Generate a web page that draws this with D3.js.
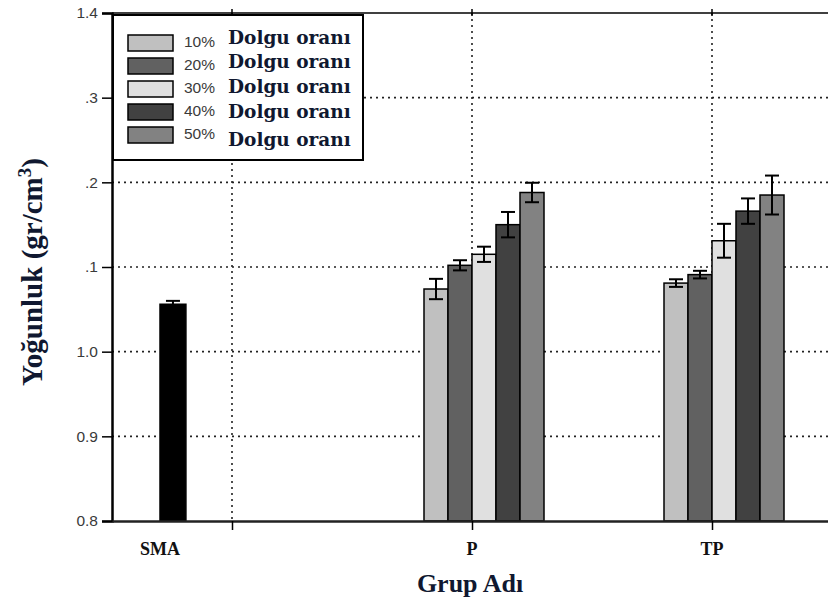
<!DOCTYPE html>
<html>
<head>
<meta charset="utf-8">
<script src="https://cdn.jsdelivr.net/npm/d3@7"></script>
<style>
  html, body { margin: 0; padding: 0; background: #fff; }
  svg { display: block; }
</style>
</head>
<body>
<svg id="chart" width="828" height="612"></svg>
<script>
// ---------- data ----------
const categories = ["SMA", "P", "TP"];
const categoryTickPos = [1, 2, 3];          // grid / tick positions (x units)
const categoryLabelPos = [0.7, 2, 3];       // label positions (x units)
const groupStart = [0.7, 1.8, 2.8];         // left edge of each group (x units)
const seriesNames = ["10%", "20%", "30%", "40%", "50%"];
const seriesColors = ["#c0c0c0", "#616161", "#e0e0e0", "#414141", "#828282"];
const smaValues = [1.056];
const smaErrors = [0.004];
const pValues = [1.074, 1.102, 1.115, 1.150, 1.188];
const pErrors = [0.012, 0.006, 0.009, 0.015, 0.0115];
const tpValues = [1.081, 1.091, 1.131, 1.166, 1.185];
const tpErrors = [0.0045, 0.0045, 0.020, 0.015, 0.023];
const yTicks = [0.8, 0.9, 1.0, 1.1, 1.2, 1.3, 1.4];
const yTickLabels = ["0.8", "0.9", "1.0", ".1", ".2", ".3", "1.4"];
const legendSuffix = "Dolgu oranı";

// ---------- scales ----------
const svg = d3.select("#chart");
const x = d3.scaleLinear().domain([0.5, 3.5]).range([112, 832]);
const y = d3.scaleLinear().domain([0.8, 1.4]).range([521, 13]);
const barW = 0.1;

// bars table
const bars = [];
smaValues.forEach((v, i) => bars.push({ x0: groupStart[0], w: 0.108, v, e: smaErrors[i], color: "#000" }));
pValues.forEach((v, i) => bars.push({ x0: groupStart[1] + i * barW, w: barW, v, e: pErrors[i], color: seriesColors[i] }));
tpValues.forEach((v, i) => bars.push({ x0: groupStart[2] + i * barW, w: barW, v, e: tpErrors[i], color: seriesColors[i] }));

// ---------- grid ----------
const grid = svg.append("g");
grid.selectAll("line.h").data(yTicks.slice(1, -1)).join("line")
  .attr("x1", x(0.5)).attr("x2", 828)
  .attr("y1", d => y(d)).attr("y2", d => y(d))
  .attr("stroke", "#222").attr("stroke-width", 1.6).attr("stroke-dasharray", "2,4");
grid.selectAll("line.v").data(categoryTickPos).join("line")
  .attr("x1", d => x(d)).attr("x2", d => x(d))
  .attr("y1", y(1.4)).attr("y2", y(0.8))
  .attr("stroke", "#222").attr("stroke-width", 1.6).attr("stroke-dasharray", "2,4");

// ---------- bars ----------
svg.append("g").selectAll("rect").data(bars).join("rect")
  .attr("x", d => x(d.x0)).attr("width", d => x(d.x0 + d.w) - x(d.x0))
  .attr("y", d => y(d.v)).attr("height", d => y(0.8) - y(d.v))
  .attr("fill", d => d.color).attr("stroke", "#000").attr("stroke-width", 1.5);

// error bars
const eb = svg.append("g").attr("stroke", "#000").attr("stroke-width", 2);
bars.forEach(d => {
  const cx = x(d.x0 + d.w / 2);
  eb.append("line").attr("x1", cx).attr("x2", cx).attr("y1", y(d.v + d.e)).attr("y2", y(d.v - d.e));
  eb.append("line").attr("x1", cx - 7).attr("x2", cx + 7).attr("y1", y(d.v + d.e)).attr("y2", y(d.v + d.e));
  eb.append("line").attr("x1", cx - 7).attr("x2", cx + 7).attr("y1", y(d.v - d.e)).attr("y2", y(d.v - d.e));
});

// ---------- axes ----------
const yAxis = d3.axisLeft(y).tickValues(yTicks)
  .tickFormat((d, i) => yTickLabels[i]).tickSize(10).tickPadding(4);
const gy = svg.append("g").attr("transform", `translate(${x(0.5)},0)`).call(yAxis);
gy.select(".domain").attr("stroke", "#000").attr("stroke-width", 2.5);
gy.selectAll(".tick line").attr("stroke", "#000").attr("stroke-width", 1.5);
gy.selectAll("text").attr("font-family", "Liberation Sans, Arial, sans-serif")
  .attr("font-size", 15.5).attr("fill", "#3a3a3a");

const xAxis = d3.axisBottom(x).tickValues(categoryTickPos).tickFormat("").tickSize(9).tickSizeOuter(0);
const gx = svg.append("g").attr("transform", `translate(0,${y(0.8)})`).call(xAxis);
gx.select(".domain").attr("stroke", "#222").attr("stroke-width", 2.5);
gx.selectAll(".tick line").attr("stroke", "#000").attr("stroke-width", 1.5);

// top frame
svg.append("line").attr("x1", x(0.5)).attr("x2", 828).attr("y1", y(1.4)).attr("y2", y(1.4))
  .attr("stroke", "#000").attr("stroke-width", 1.5);
svg.append("g").selectAll("line").data(categoryTickPos).join("line")
  .attr("x1", d => x(d)).attr("x2", d => x(d)).attr("y1", y(1.4) - 4).attr("y2", y(1.4) + 3)
  .attr("stroke", "#000").attr("stroke-width", 1.5);

// category labels
svg.append("g").selectAll("text").data(categories).join("text")
  .attr("x", (d, i) => x(categoryLabelPos[i])).attr("y", 555)
  .attr("text-anchor", "middle")
  .attr("font-family", "Liberation Serif, Times New Roman, serif").attr("font-weight", "bold")
  .attr("font-size", 18).attr("fill", "#111")
  .text(d => d);

// axis titles
svg.append("text").attr("x", 470).attr("y", 592).attr("text-anchor", "middle")
  .attr("font-family", "Liberation Serif, Times New Roman, serif").attr("font-weight", "bold")
  .attr("font-size", 26).attr("fill", "#101830").text("Grup Adı");

const yt = svg.append("text").attr("transform", "translate(42,272) rotate(-90)")
  .attr("text-anchor", "middle")
  .attr("font-family", "Liberation Serif, Times New Roman, serif").attr("font-weight", "bold")
  .attr("font-size", 29).attr("fill", "#101830");
yt.append("tspan").text("Yoğunluk (gr/cm");
yt.append("tspan").attr("dy", -11).attr("font-size", 19).text("3");
yt.append("tspan").attr("dy", 11).text(")");

// ---------- legend ----------
const lg = svg.append("g");
lg.append("rect").attr("x", 113).attr("y", 15).attr("width", 250).attr("height", 145)
  .attr("fill", "#fff").attr("stroke", "#000").attr("stroke-width", 2);
const textOffsets = [9, 10, 12, 14, 19];
const rows = lg.selectAll("g.row").data(seriesNames).join("g")
  .attr("transform", (d, i) => `translate(0,${35 + i * 23})`);
rows.append("rect").attr("x", 128).attr("y", 0).attr("width", 45).attr("height", 16)
  .attr("fill", (d, i) => seriesColors[i]).attr("stroke", "#000").attr("stroke-width", 1.5);
rows.append("text").attr("x", 184).attr("y", 12)
  .attr("font-family", "Liberation Sans, Arial, sans-serif").attr("font-size", 15.5)
  .attr("fill", "#3a3a3a").text(d => d);
rows.append("text").attr("x", 228).attr("y", (d, i) => textOffsets[i])
  .attr("font-family", "DejaVu Serif, serif").attr("font-weight", "bold")
  .attr("font-size", 18.5).attr("fill", "#101830").text(legendSuffix);
</script>
</body>
</html>
